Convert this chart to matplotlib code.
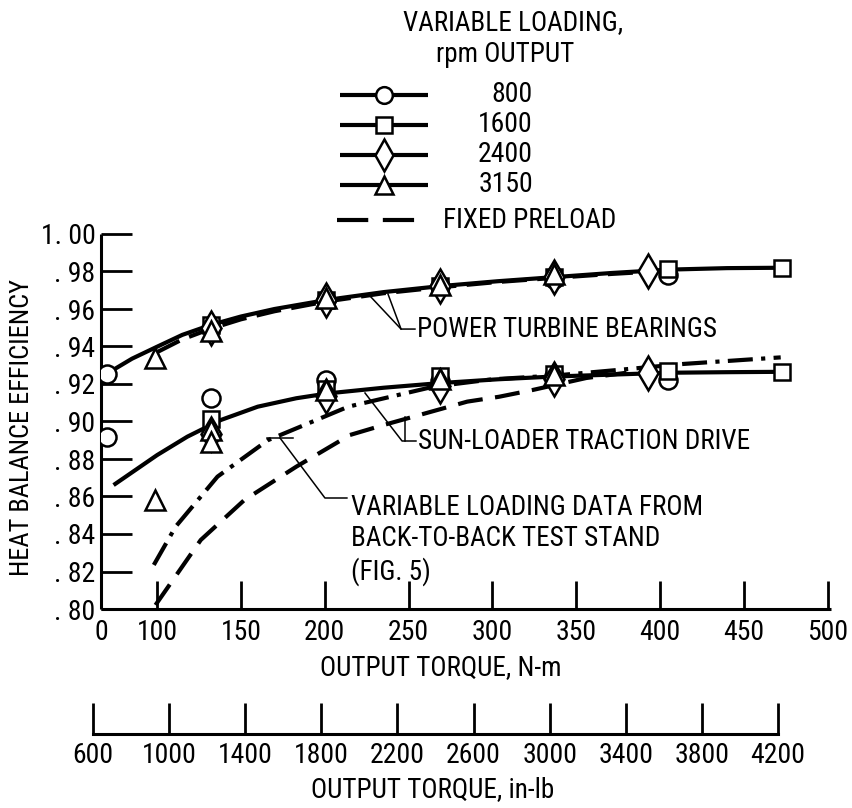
import numpy as np
import matplotlib
matplotlib.use('Agg')
import matplotlib.pyplot as plt
from matplotlib import font_manager

# pick a narrow sans face if one is installed
fams = {}
for f in font_manager.fontManager.ttflist:
    fams.setdefault(f.name, set()).add(str(f.stretch))
chosen, stretch = 'DejaVu Sans', 'normal'
for name in ['Liberation Sans Narrow', 'Roboto Condensed', 'Open Sans Condensed',
             'Noto Sans', 'DejaVu Sans', 'Roboto', 'Open Sans', 'Lato', 'Inter']:
    if name not in fams:
        continue
    if 'Narrow' in name or 'Condensed' in name:
        chosen, stretch = name, 'normal'
        break
    narrow = [s for s in fams[name] if 'condensed' in s]
    if narrow:
        chosen, stretch = name, sorted(narrow, key=len)[0]
        break
plt.rcParams['font.family'] = [chosen, 'DejaVu Sans']
plt.rcParams['font.stretch'] = stretch
fs = 19.5   # general text
fs_tick = 20

# ---- data (torque N-m, heat balance efficiency) ----
rpm_labels = ['800', '1600', '2400', '3150']
rpm_markers = ['o', 's', 'd', '^']
rpm_sizes = [13, 12, 17, 14]

x_800 = [70, 70, 132, 201, 201, 269, 269, 337, 337, 405, 405]
y_800 = [0.9252, 0.8916, 0.9127, 0.9650, 0.9220, 0.9722, 0.9218, 0.9762, 0.9240, 0.9780, 0.9222]
x_1600 = [132, 132, 201, 201, 269, 269, 337, 337, 405, 405, 473, 473]
y_1600 = [0.9512, 0.9012, 0.9650, 0.9175, 0.9725, 0.9245, 0.9768, 0.9252, 0.9815, 0.9268, 0.9817, 0.9262]
x_2400 = [132, 132, 201, 201, 269, 269, 337, 337, 393, 393]
y_2400 = [0.9500, 0.8935, 0.9650, 0.9135, 0.9720, 0.9190, 0.9770, 0.9225, 0.9800, 0.9257]
x_3150 = [99, 99, 132, 132, 132, 201, 201, 269, 269, 337, 337]
y_3150 = [0.9337, 0.8581, 0.9480, 0.8955, 0.8892, 0.9660, 0.9170, 0.9730, 0.9225, 0.9785, 0.9250]

# power turbine bearings, variable loading (solid) and fixed preload (dashed)
pt_var_x = [70, 85, 100, 115, 132, 150, 170, 201, 235, 269, 303, 337, 371, 405, 440, 473]
pt_var_y = [0.9255, 0.9335, 0.9399, 0.9462, 0.9515, 0.9560, 0.9600, 0.9648, 0.9690, 0.9722,
            0.9748, 0.9770, 0.9792, 0.9810, 0.9818, 0.9820]
pt_fix_x = [100, 115, 132, 150, 170, 201, 235, 269, 303, 337, 371, 400]
pt_fix_y = [0.9370, 0.9438, 0.9495, 0.9545, 0.9588, 0.9640, 0.9684, 0.9716, 0.9744, 0.9766, 0.9787, 0.9802]

# sun-loader traction drive, variable loading (solid) and fixed preload (dashed)
sl_var_x = [74, 100, 118, 138, 160, 183, 202, 235, 269, 303, 337, 371, 405, 440, 473]
sl_var_y = [0.8661, 0.8821, 0.8919, 0.9008, 0.9079, 0.9124, 0.9150, 0.9180, 0.9205, 0.9225,
            0.9240, 0.9250, 0.9260, 0.9263, 0.9265]
sl_fix_x = [99, 126, 152, 183, 215, 235, 285, 304, 324, 356, 380]
sl_fix_y = [0.8021, 0.8368, 0.8581, 0.8759, 0.8928, 0.8981, 0.9106, 0.9132, 0.9168, 0.9232, 0.9260]

# variable loading data from back-to-back test stand (dash-dot)
b2b_x = [98, 111, 136, 166, 195, 214, 265, 300, 337, 375, 414, 472]
b2b_y = [0.8235, 0.8439, 0.8706, 0.8900, 0.9008, 0.9079, 0.9186, 0.9225, 0.9245, 0.9275, 0.9307, 0.9342]

nm_ticks = [100, 150, 200, 250, 300, 350, 400, 450, 500]
inlb_ticks = [600, 1000, 1400, 1800, 2200, 2600, 3000, 3400, 3800, 4200]
eff_ticks = [0.80, 0.82, 0.84, 0.86, 0.88, 0.90, 0.92, 0.94, 0.96, 0.98, 1.00]

W, H = 852, 808
fig = plt.figure(figsize=(W / 100, H / 100), dpi=100)

# main axes
ax = fig.add_axes([101 / W, 1 - 609 / H, 730 / W, 375 / H])
ax.set_xlim(66.5, 502)
ax.set_ylim(0.80, 1.00)
for s in ['top', 'right']:
    ax.spines[s].set_visible(False)
for s in ['left', 'bottom']:
    ax.spines[s].set_linewidth(2.2)
    ax.spines[s].set_capstyle('butt')

ax.set_yticks(eff_ticks)
ax.set_yticklabels(['1. 00' if v == 1.0 else '. ' + '{:.2f}'.format(v)[2:] for v in eff_ticks])
ax.tick_params(axis='y', direction='in', length=22, width=2, pad=4, labelsize=fs_tick)
ax.set_xticks([66.5] + nm_ticks)
ax.set_xticklabels(['0'] + [str(t) for t in nm_ticks])
ax.tick_params(axis='x', direction='in', length=20, width=2, pad=7, labelsize=fs_tick)
ax.xaxis.get_major_ticks()[0].tick1line.set_visible(False)

lw = 3
ax.plot(pt_var_x, pt_var_y, color='black', lw=lw, solid_capstyle='butt')
ax.plot(pt_fix_x, pt_fix_y, color='black', lw=lw, dashes=(6, 2.5))
ax.plot(sl_var_x, sl_var_y, color='black', lw=lw, solid_capstyle='butt')
ax.plot(sl_fix_x, sl_fix_y, color='black', lw=lw, dashes=(6, 3))
ax.plot(b2b_x, b2b_y, color='black', lw=lw, dashes=(6, 2, 1, 2))

series = [(x_800, y_800), (x_1600, y_1600), (x_2400, y_2400), (x_3150, y_3150)]
for (xs, ys), m, ms in zip(series, rpm_markers, rpm_sizes):
    ax.plot(xs, ys, linestyle='none', marker=m, markersize=ms, markerfacecolor='white',
            markeredgecolor='black', markeredgewidth=1.8, zorder=5)

# leaders and curve labels
lk = dict(color='black', lw=1.1, clip_on=False)
ax.plot([227, 245.5, 253.8], [0.9669, 0.9493, 0.9493], **lk)
ax.plot([237.7, 245.5], [0.9680, 0.9493], **lk)
ax.text(255, 0.9490, 'POWER TURBINE BEARINGS', ha='left', va='center', fontsize=fs)
ax.plot([224, 246.1, 254.4], [0.9152, 0.8896, 0.8896], **lk)
ax.plot([247.9, 247.9], [0.9024, 0.8896], **lk)
ax.text(255.6, 0.8891, 'SUN-LOADER TRACTION DRIVE', ha='left', va='center', fontsize=fs)
ax.plot([173.3, 200.1, 213.2], [0.8912, 0.8592, 0.8592], **lk)
ax.plot([165.5, 181], [0.8912, 0.8912], **lk)
ax.text(215.5, 0.8368, 'VARIABLE LOADING DATA FROM\nBACK-TO-BACK TEST STAND\n(FIG. 5)',
        ha='left', va='center', fontsize=fs, linespacing=1.22)

fig.text(441 / W, 1 - 668 / H, 'OUTPUT TORQUE, N-m', ha='center', va='center', fontsize=fs)
fig.text(22 / W, 1 - 428 / H, 'HEAT BALANCE EFFICIENCY', ha='center', va='center',
         rotation=90, fontsize=19)

# second scale in in-lb
ax2 = fig.add_axes([93 / W, 1 - 734 / H, 685 / W, 40 / H])
ax2.set_xlim(600, 4200)
ax2.patch.set_visible(False)
for s in ['top', 'right', 'left']:
    ax2.spines[s].set_visible(False)
ax2.spines['bottom'].set_linewidth(2.2)
ax2.set_yticks([])
ax2.set_xticks(inlb_ticks)
ax2.set_xticklabels([str(t) for t in inlb_ticks])
ax2.tick_params(axis='x', direction='in', length=22, width=2, pad=6, labelsize=fs_tick)
fig.text(433 / W, 1 - 790 / H, 'OUTPUT TORQUE, in-lb', ha='center', va='center', fontsize=fs)

# key, drawn in pixel coordinates
lax = fig.add_axes([0, 0, 1, 1])
lax.set_xlim(0, W)
lax.set_ylim(H, 0)
lax.axis('off')
lax.text(513, 23, 'VARIABLE LOADING,', ha='center', va='center', fontsize=fs)
lax.text(505, 55, 'rpm OUTPUT', ha='center', va='center', fontsize=fs)
row_y = [95, 125, 155, 185]
for ry, lab, m, ms in zip(row_y, rpm_labels, rpm_markers, rpm_sizes):
    lax.plot([340, 428], [ry, ry], color='black', lw=lw, solid_capstyle='butt')
    lax.plot([384], [ry], marker=m, markersize=ms - 1, markerfacecolor='white',
             markeredgecolor='black', markeredgewidth=1.8)
    lax.text(533, ry, lab, ha='right', va='center', fontsize=fs_tick)
lax.plot([337, 428], [220, 220], color='black', lw=lw, dashes=(7.5, 3.5))
lax.text(443, 220, 'FIXED PRELOAD', ha='left', va='center', fontsize=fs)

fig.savefig('out.png', dpi=100, facecolor='white')
